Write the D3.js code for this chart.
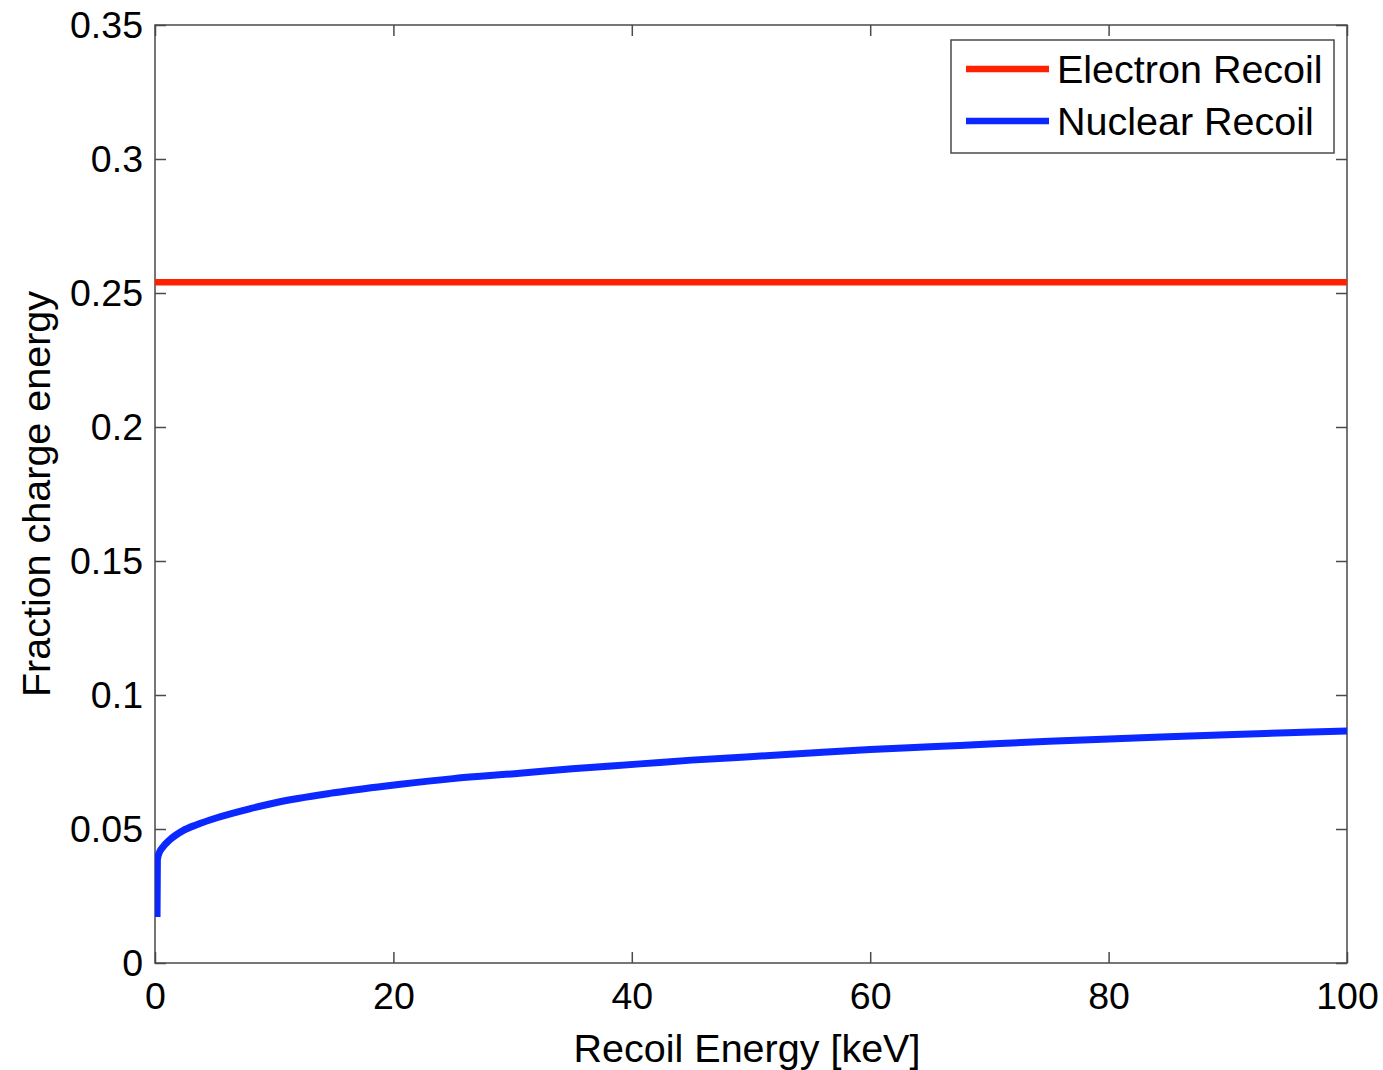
<!DOCTYPE html>
<html>
<head>
<meta charset="utf-8">
<script src="https://cdn.jsdelivr.net/npm/d3@7/dist/d3.min.js"></script>
<style>
  html, body { margin: 0; padding: 0; background: #fff; }
  svg { display: block; }
  text { font-family: "Liberation Sans", Arial, Helvetica, sans-serif; fill: #000; }
</style>
</head>
<body>
<svg id="chart" width="1383" height="1070"></svg>
<script>
// Recoil energy grid (keV) for the nuclear-recoil curve
const energyKeV = [0.17, 0.2, 0.3, 0.67, 1.2, 2.35, 3.5, 5.2, 8.0, 10.2, 15.0, 20.6, 25.0, 30.6, 35.0, 40.7, 45.0, 49.9, 55.0, 60.0, 65.0, 70.0, 75.0, 79.5, 85.0, 89.9, 95.0, 100.0];
// Fraction of recoil energy that goes into charge, nuclear recoils
const nuclearFraction = [0.0172, 0.0384, 0.0405, 0.0433, 0.0458, 0.0494, 0.0516, 0.0542, 0.0576, 0.0599, 0.0635, 0.0667, 0.0688, 0.0708, 0.0725, 0.0743, 0.0757, 0.0770, 0.0784, 0.0797, 0.0807, 0.0817, 0.0827, 0.0835, 0.0844, 0.0852, 0.0859, 0.0866];
// Electron recoils: constant fraction across the range
const electronEnergyKeV = [0, 100];
const electronFraction = [0.254, 0.254];

const xTicks = [0, 20, 40, 60, 80, 100];
const yTicks = [0, 0.05, 0.1, 0.15, 0.2, 0.25, 0.3, 0.35];
const seriesNames = ["Electron Recoil", "Nuclear Recoil"];
const seriesColors = ["#ff2200", "#0a28ff"];

const margin = { left: 155, top: 25, right: 36, bottom: 107 };
const W = 1383, H = 1070;
const svg = d3.select("#chart");

const x = d3.scaleLinear().domain([0, 100]).range([margin.left, W - margin.right]);
const y = d3.scaleLinear().domain([0, 0.35]).range([H - margin.bottom, margin.top]);

const axisColor = "#4a4a4a";
const tickFont = 37.5;
const labelFont = 39.5;
const tickLen = 11;

// Frame box
svg.append("rect")
  .attr("x", x(0)).attr("y", y(0.35))
  .attr("width", x(100) - x(0)).attr("height", y(0) - y(0.35))
  .attr("fill", "none").attr("stroke", axisColor).attr("stroke-width", 1.5);

// Axes with inward ticks on all four sides
function styleAxis(g) {
  g.select(".domain").remove();
  g.selectAll(".tick line").attr("stroke", axisColor).attr("stroke-width", 1.5);
  g.selectAll(".tick text").style("font-size", tickFont + "px")
    .style("font-family", "'Liberation Sans', Arial, sans-serif").attr("fill", "#000");
}
const fmtY = d => d === 0 ? "0" : String(+d.toFixed(2));

svg.append("g").attr("transform", `translate(0,${y(0)})`)
  .call(d3.axisBottom(x).tickValues(xTicks).tickSize(-tickLen).tickPadding(19).tickFormat(d3.format("d")))
  .call(styleAxis);
svg.append("g").attr("transform", `translate(0,${y(0.35)})`)
  .call(d3.axisTop(x).tickValues(xTicks).tickSize(-tickLen).tickFormat(""))
  .call(styleAxis);
svg.append("g").attr("transform", `translate(${x(0)},0)`)
  .call(d3.axisLeft(y).tickValues(yTicks).tickSize(-tickLen).tickPadding(12).tickFormat(fmtY))
  .call(styleAxis);
svg.append("g").attr("transform", `translate(${x(100)},0)`)
  .call(d3.axisRight(y).tickValues(yTicks).tickSize(-tickLen).tickFormat(""))
  .call(styleAxis);

// Data lines
const plot = svg.append("g");
plot.append("clipPath").attr("id", "clip").append("rect")
  .attr("x", x(0)).attr("y", y(0.35)).attr("width", x(100) - x(0)).attr("height", y(0) - y(0.35));

const elec = electronEnergyKeV.map((e, i) => [e, electronFraction[i]]);
const nucl = energyKeV.map((e, i) => [e, nuclearFraction[i]]);

plot.append("path").datum(elec)
  .attr("d", d3.line().x(d => x(d[0])).y(d => y(d[1])))
  .attr("fill", "none")
  .attr("stroke", seriesColors[0]).attr("stroke-width", 6.5)
  .attr("clip-path", "url(#clip)");
plot.append("path").datum(nucl)
  .attr("d", d3.line().x(d => x(d[0])).y(d => y(d[1])).curve(d3.curveMonotoneX))
  .attr("fill", "none")
  .attr("stroke", seriesColors[1]).attr("stroke-width", 7)
  .attr("stroke-linejoin", "round")
  .attr("clip-path", "url(#clip)");

// Axis titles
svg.append("text")
  .attr("x", (x(0) + x(100)) / 2 - 4).attr("y", 1062)
  .attr("text-anchor", "middle").style("font-size", labelFont + "px")
  .text("Recoil Energy [keV]");
svg.append("text")
  .attr("transform", `translate(50,${(y(0) + y(0.35)) / 2}) rotate(-90)`)
  .attr("text-anchor", "middle").style("font-size", labelFont + "px")
  .text("Fraction charge energy");

// Legend
const lg = svg.append("g");
lg.append("rect").attr("x", 951).attr("y", 40).attr("width", 383).attr("height", 113)
  .attr("fill", "#fff").attr("stroke", axisColor).attr("stroke-width", 1.5);
seriesNames.forEach((name, i) => {
  const cy = 69 + i * 52;
  lg.append("line").attr("x1", 966).attr("x2", 1049).attr("y1", cy).attr("y2", cy)
    .attr("stroke", seriesColors[i]).attr("stroke-width", 6.5);
  lg.append("text").attr("x", 1057).attr("y", cy + 14)
    .style("font-size", labelFont + "px").text(name);
});
</script>
</body>
</html>
